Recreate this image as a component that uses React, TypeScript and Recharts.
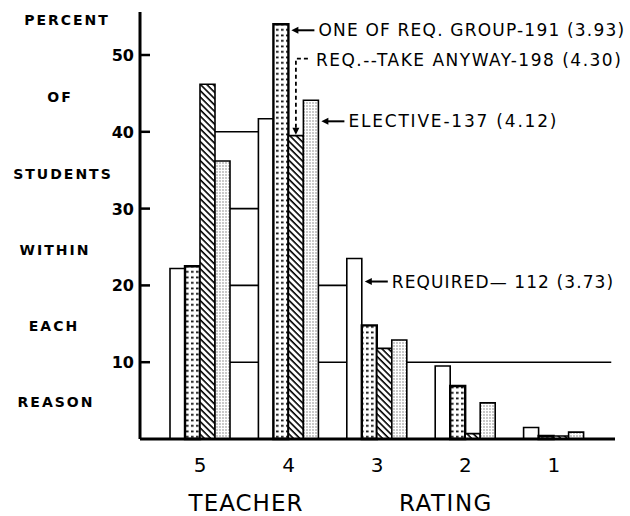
import React from 'react';
import { BarChart, Bar, XAxis, YAxis, ReferenceLine } from 'recharts';

// ---- data ----
const ratings = ['5', '4', '3', '2', '1'];
const required = [22.2, 41.7, 23.5, 9.5, 1.5];
const oneOfGroup = [22.5, 54.0, 14.8, 6.9, 0.4];
const takeAnyway = [46.2, 39.5, 11.8, 0.7, 0.4];
const elective = [36.2, 44.1, 12.9, 4.7, 0.9];
const yTicks = [10, 20, 30, 40, 50];
const yWords = ['PERCENT', 'OF', 'STUDENTS', 'WITHIN', 'EACH', 'REASON'];

const annOneOf = 'ONE OF REQ. GROUP-191 (3.93)';
const annTake = 'REQ.--TAKE ANYWAY-198 (4.30)';
const annElective = 'ELECTIVE-137 (4.12)';
const annRequired = 'REQUIRED\u2014 112 (3.73)';

const data = ratings.map((r, i) => ({
  rating: r,
  required: required[i],
  oneOf: oneOfGroup[i],
  take: takeAnyway[i],
  elective: elective[i],
}));

// horizontal guide segments drawn behind the bars, in band units (band i centred at i + 0.5)
const guideSegs = [
  { y: 40, from: 0.5, to: 1.5 },
  { y: 30, from: 0.5, to: 1.5 },
  { y: 20, from: 0.5, to: 2.3 },
  { y: 10, from: 0.5, to: 5.15 },
];

const W = 630;
const H = 516;
const MARGIN = { top: 12, right: 15, bottom: 0, left: 0 };
const Y_AXIS_W = 140;
const X_AXIS_H = 77;
const PAD_L = 16;
const PAD_R = 17;
const Y_DOMAIN: [number, number] = [0, 55.6];
const BAND = (W - MARGIN.right - Y_AXIS_W - PAD_L - PAD_R) / ratings.length;
const GUIDE_DOMAIN: [number, number] = [-PAD_L / BAND, ratings.length + PAD_R / BAND];

const FONT = 'DejaVu Sans';
const ANN_STYLE: React.CSSProperties = { whiteSpace: 'pre' };
const WORD_POS = [
  { x: 67, y: 25 },
  { x: 60, y: 102 },
  { x: 63, y: 179 },
  { x: 55, y: 255 },
  { x: 54, y: 331 },
  { x: 56, y: 407 },
];

const YTick = (props: any) => {
  const { x, y, payload } = props;
  return (
    <g>
      <line x1={x} x2={x + 10} y1={y} y2={y} stroke="#000" strokeWidth={2.5} />
      <text x={x - 6} y={y} dy={6} textAnchor="end" fontSize={16} fontWeight="bold" fontFamily={FONT} fill="#000">
        {payload.value}
      </text>
    </g>
  );
};

const XTick = (props: any) => {
  const { x, y, payload } = props;
  return (
    <text x={x} y={y + 33} textAnchor="middle" fontSize={20} fontFamily={FONT} fill="#000">
      {payload.value}
    </text>
  );
};

const LeftArrow = ({ x, y, len }: { x: number; y: number; len: number }) => (
  <g>
    <line x1={x + 4} x2={x + len} y1={y} y2={y} stroke="#000" strokeWidth={2} />
    <path d={`M${x},${y} L${x + 7},${y - 3.5} L${x + 7},${y + 3.5} Z`} fill="#000" />
  </g>
);

const annText = (x: number, y: number, s: string, ls = 1.4) => (
  <text x={x} y={y} fontSize={17} fontFamily={FONT} letterSpacing={ls} fill="#000" style={ANN_STYLE}>
    {s}
  </text>
);

const arrowLabel = (category: string, text: string, dy: number, ls = 1.4) => (props: any) => {
  const { x, y, width, index } = props;
  if (ratings[index] !== category) return null;
  const right = x + width;
  const ay = y + dy;
  return (
    <g>
      <LeftArrow x={right + 3} y={ay} len={23} />
      {annText(right + 30, ay + 6, text, ls)}
    </g>
  );
};

const takeLabel = (props: any) => {
  const { x, y, width, index } = props;
  if (ratings[index] !== '4') return null;
  const cx = x + width / 2;
  const topY = y - 77;
  return (
    <g>
      <path d={`M${cx + 12},${topY} L${cx},${topY} L${cx},${y - 8}`} fill="none" stroke="#000" strokeWidth={1.8} strokeDasharray="4 3" />
      <path d={`M${cx},${y - 1} L${cx - 3.5},${y - 8} L${cx + 3.5},${y - 8} Z`} fill="#000" />
      {annText(cx + 20, topY + 7, annTake, 1.5)}
    </g>
  );
};

const layer: React.CSSProperties = { position: 'absolute', left: 0, top: 0, width: W, height: H };

export default function App() {
  return (
    <div style={{ ...layer, background: '#fff' }}>
      {/* bottom layer: guide lines behind bars */}
      <div style={layer}>
        <BarChart
          width={W}
          height={H}
          data={data}
          margin={{ top: MARGIN.top, right: MARGIN.right, bottom: X_AXIS_H, left: Y_AXIS_W }}
        >
          <XAxis type="number" dataKey="pos" domain={GUIDE_DOMAIN} allowDataOverflow hide />
          <YAxis domain={Y_DOMAIN} allowDataOverflow hide />
          {guideSegs.map((g) => (
            <ReferenceLine
              key={g.y}
              segment={[{ x: g.from, y: g.y }, { x: g.to, y: g.y }]}
              stroke="#000"
              strokeWidth={1.6}
              ifOverflow="visible"
            />
          ))}
        </BarChart>
      </div>
      {/* top layer: bars, axes, text */}
      <div style={layer}>
        <BarChart width={W} height={H} data={data} margin={MARGIN} barGap={0} barSize={15}>
          <defs>
            <pattern id="pDense" width="5" height="5.5" patternUnits="userSpaceOnUse">
              <rect width="5" height="5.5" fill="#fff" />
              <rect x="1" y="1.5" width="2.6" height="1.7" fill="#000" />
            </pattern>
            <pattern id="pHatch" width="4.5" height="4.5" patternUnits="userSpaceOnUse" patternTransform="rotate(-45)">
              <rect width="4.5" height="4.5" fill="#fff" />
              <line x1="1" y1="0" x2="1" y2="4.5" stroke="#000" strokeWidth="1.6" />
            </pattern>
            <pattern id="pLight" width="3" height="3" patternUnits="userSpaceOnUse">
              <rect width="3" height="3" fill="#fff" />
              <circle cx="1" cy="1" r="0.65" fill="#666" />
            </pattern>
          </defs>
          <XAxis
            dataKey="rating"
            padding={{ left: PAD_L, right: PAD_R }}
            height={X_AXIS_H}
            axisLine={{ stroke: '#000', strokeWidth: 3 }}
            tickLine={false}
            tickSize={0}
            tickMargin={0}
            tick={<XTick />}
            interval={0}
          />
          <YAxis
            domain={Y_DOMAIN}
            ticks={yTicks}
            width={Y_AXIS_W}
            axisLine={{ stroke: '#000', strokeWidth: 3 }}
            tickLine={false}
            tickSize={0}
            tickMargin={0}
            tick={<YTick />}
            interval={0}
          />
          <Bar dataKey="required" fill="#fff" stroke="#000" strokeWidth={1.6} isAnimationActive={false}
            label={arrowLabel('3', annRequired, 23, 1.1)} />
          <Bar dataKey="oneOf" fill="url(#pDense)" stroke="#000" strokeWidth={2.4} isAnimationActive={false}
            label={arrowLabel('4', annOneOf, 6, 1.2)} />
          <Bar dataKey="take" fill="url(#pHatch)" stroke="#000" strokeWidth={1.6} isAnimationActive={false}
            label={takeLabel} />
          <Bar dataKey="elective" fill="url(#pLight)" stroke="#000" strokeWidth={1.6} isAnimationActive={false}
            label={arrowLabel('4', annElective, 21, 1.8)} />
          {yWords.map((w, i) => (
            <text key={w} x={WORD_POS[i].x} y={WORD_POS[i].y} textAnchor="middle" fontSize={14}
              fontWeight="bold" fontFamily={FONT} letterSpacing={2} fill="#000">
              {w}
            </text>
          ))}
          <text x={246} y={511} textAnchor="middle" fontSize={23} fontFamily={FONT} letterSpacing={1} fill="#000">TEACHER</text>
          <text x={446} y={511} textAnchor="middle" fontSize={23} fontFamily={FONT} letterSpacing={1.5} fill="#000">RATING</text>
        </BarChart>
      </div>
    </div>
  );
}
